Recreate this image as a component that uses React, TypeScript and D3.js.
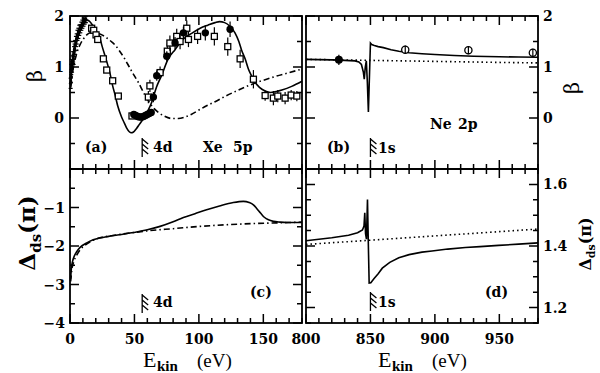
import * as d3 from "d3";

const width = 600;
const height = 373;

// ---- data ----

// panel (a): Xe 5p asymmetry parameter
const xeBetaTheory: [number, number][] = [
  [0.5, 0.6], [1, 0.8], [2, 1.1], [3, 1.32], [5, 1.55], [7, 1.73], [9, 1.84],
  [11, 1.9], [13, 1.92], [15, 1.9], [18, 1.8], [20, 1.72], [22.8, 1.6], [25, 1.4],
  [28, 1.15], [31, 0.88], [33.1, 0.63], [35, 0.45], [37, 0.24], [40, 0.02],
  [42.2, -0.1], [44, -0.2], [46, -0.27], [47.5, -0.29], [49, -0.28], [51.5, -0.21],
  [54, -0.12], [57, -0.01], [60, 0.12], [63.4, 0.31], [67, 0.6], [71, 0.83],
  [76, 1.15], [81.5, 1.34], [88, 1.55], [94.4, 1.66], [101, 1.76], [107, 1.82],
  [112.6, 1.87], [116, 1.89], [120, 1.87], [124, 1.8], [128, 1.67], [131, 1.5],
  [133, 1.34], [136, 1.15], [138.4, 0.96], [141, 0.82], [143.6, 0.7], [147, 0.6],
  [151.4, 0.53], [155.5, 0.5], [160, 0.52], [164.4, 0.55], [172, 0.62], [180, 0.72],
];

const xeBetaNoInter: [number, number][] = [
  [0.5, 0.62], [2, 0.9], [4, 1.15], [6, 1.33], [8, 1.45], [10.4, 1.55], [13, 1.63],
  [15.5, 1.67], [17.6, 1.68], [20, 1.67], [24, 1.64], [28, 1.58], [32, 1.5],
  [35, 1.43], [38.3, 1.32], [42.7, 1.15], [46, 1.0], [48.7, 0.88], [53, 0.7],
  [57.7, 0.47], [60.8, 0.34], [64, 0.22], [68.6, 0.11], [73, 0.04], [79, -0.01],
  [84, -0.01], [89.4, 0.02], [94, 0.07], [99.6, 0.15], [106, 0.24], [112.6, 0.32],
  [120, 0.42], [130, 0.54], [140, 0.65], [150, 0.74], [160, 0.82], [170, 0.89],
  [180, 0.96],
];

// [E, beta, error]
const xeSquares: [number, number, number][] = [
  [16.8, 1.76, 0.04], [18.4, 1.72, 0.04], [20.2, 1.63, 0.04], [21.5, 1.54, 0.04],
  [25.9, 1.16, 0.04], [28.5, 0.94, 0.04], [33.1, 0.73, 0.04], [37.5, 0.43, 0.04],
  [48.1, 0.04, 0.04], [60.8, 0.41, 0.12], [62, 0.63, 0.12], [69.9, 0.89, 0.12],
  [75.5, 1.31, 0.15], [77.5, 1.47, 0.15], [82.8, 1.6, 0.15], [85.4, 1.5, 0.15],
  [90.6, 1.76, 0.15], [91.9, 1.54, 0.15], [99, 1.6, 0.15], [112, 1.6, 0.18],
  [122.4, 1.4, 0.18], [132, 1.16, 0.18], [142.3, 0.76, 0.18], [151.4, 0.44, 0.1],
  [157.8, 0.39, 0.14], [161.2, 0.43, 0.12], [166.9, 0.39, 0.12], [171.6, 0.45, 0.1],
  [176, 0.43, 0.1],
];

const xeCircles: [number, number, number][] = [
  [49.5, 0.07, 0.05], [51, 0.05, 0.05], [52.5, 0.03, 0.05], [54, 0.02, 0.05],
  [55.5, 0.02, 0.05], [57, 0.03, 0.05], [58.5, 0.05, 0.05], [60, 0.07, 0.05],
  [61.5, 0.09, 0.05], [63, 0.11, 0.05], [64.7, 0.41, 0.1], [67.3, 0.83, 0.1],
  [75.1, 1.21, 0.1], [81.5, 1.47, 0.12], [88, 1.67, 0.12], [105, 1.67, 0.15],
  [124.2, 1.74, 0.15],
];

const xeEarly: [number, number, number][] = [
  [0.5, 0.68, 0.1], [0.8, 0.8, 0.1], [1.0, 0.95, 0.1], [1.3, 1.05, 0.1],
  [1.6, 1.0, 0.1], [2.0, 1.12, 0.1], [2.4, 1.2, 0.1], [2.8, 1.15, 0.1],
  [3.2, 1.3, 0.1], [3.6, 1.35, 0.1], [4.0, 1.42, 0.1], [4.6, 1.5, 0.1],
  [5.2, 1.55, 0.1], [5.8, 1.62, 0.1], [6.5, 1.66, 0.1], [7.2, 1.72, 0.1],
  [8.0, 1.75, 0.08], [8.8, 1.8, 0.08], [9.6, 1.84, 0.08], [10.5, 1.88, 0.08],
  [11.4, 1.9, 0.06], [12.3, 1.93, 0.06],
];

// panel (b): Ne 2p asymmetry parameter
const neBetaTheory: [number, number][] = [
  [800, 1.15], [810, 1.145], [820, 1.14], [830, 1.13], [838, 1.12], [841, 1.1],
  [843, 1.05], [844.5, 0.9], [845.2, 0.76], [846, 1.0], [846.8, 1.12], [847.6, 0.7],
  [848.4, 0.12], [849.2, 0.8], [850, 1.47], [851, 1.44], [853, 1.42], [856, 1.4],
  [860, 1.38], [866, 1.34], [872, 1.31], [880, 1.28], [890, 1.26], [900, 1.245],
  [915, 1.225], [930, 1.21], [950, 1.2], [965, 1.195], [980, 1.19],
];

const neBetaNoInter: [number, number][] = [
  [800, 1.15], [850, 1.13], [900, 1.11], [950, 1.09], [980, 1.08],
];

const neFilled: [number, number, number][] = [[825.5, 1.14, 0.1]];
const neOpen: [number, number, number][] = [
  [877, 1.34, 0.08], [926, 1.33, 0.08], [976, 1.28, 0.08],
];

// panel (c): Xe phase difference
const xeDeltaTheory: [number, number][] = [
  [0.5, -2.85], [1, -2.6], [2, -2.4], [3.5, -2.25], [5.2, -2.15], [8, -2.03],
  [13, -1.92], [18, -1.84], [23.3, -1.79], [30, -1.75], [40, -1.7], [49.1, -1.65],
  [60, -1.58], [69.9, -1.49], [80, -1.37], [88, -1.26], [97, -1.16], [106, -1.06],
  [116, -0.96], [126.7, -0.87], [134.5, -0.84], [139, -0.87], [142.3, -0.93],
  [145, -1.03], [148, -1.15], [151, -1.26], [154, -1.32], [157.8, -1.36],
  [163, -1.38], [168, -1.39], [180, -1.39],
];

const xeDeltaNoInter: [number, number][] = [
  [0.5, -2.92], [1.5, -2.6], [3, -2.4], [5, -2.25], [7.8, -2.1], [12, -1.97],
  [18, -1.85], [24, -1.78], [31, -1.74], [45, -1.67], [62, -1.6], [80, -1.55],
  [101, -1.49], [120, -1.45], [140, -1.42], [160, -1.4], [180, -1.38],
];

// panel (d): Ne phase difference
const neDeltaTheory: [number, number][] = [
  [800, 1.417], [820, 1.427], [833, 1.435], [840, 1.443], [843.8, 1.452],
  [845, 1.465], [845.6, 1.508], [846.2, 1.44], [846.9, 1.422], [847.7, 1.551],
  [848.3, 1.42], [849, 1.28], [850.3, 1.281], [853, 1.295], [856, 1.31],
  [859.2, 1.328], [865, 1.347], [872, 1.362], [880, 1.372], [890, 1.38],
  [897.8, 1.384], [910, 1.39], [923.6, 1.395], [935, 1.398], [949.4, 1.402],
  [965, 1.406], [980, 1.41],
];

const neDeltaNoInter: [number, number][] = [
  [800, 1.405], [980, 1.455],
];

// thresholds and tick labels
const xeThreshold = 56;
const neThreshold = 850;
const xeTickLabels = [0, 50, 100, 150];
const neTickLabels = [800, 850, 900, 950];
const betaTickLabels = [2, 1, 0];
const xeDeltaTickLabels = [-1, -2, -3, -4];
const neDeltaTickLabels = [1.6, 1.4, 1.2];

// ---- layout ----
const xXe = d3.scaleLinear().domain([0, 180]).range([70, 302]);
const xNe = d3.scaleLinear().domain([800, 980]).range([306, 538]);
const yBeta = d3.scaleLinear().domain([-1, 2]).range([169, 16]);
const yXeD = d3.scaleLinear().domain([-4, 0]).range([323, 169]);
const yNeD = d3.scaleLinear().domain([1.15, 1.65]).range([323, 169]);

const serif = "'DejaVu Serif', serif";
const times = "'Liberation Serif', serif";
const dashDot = "6,3,1.5,3";
const dotted = "1.5,3";

type Scale = d3.ScaleLinear<number, number>;

function Frame({ x, y, xMinor, xMajor, yMinor, yMajor }: {
  x: Scale; y: Scale; xMinor: number[]; xMajor: number[]; yMinor: number[]; yMajor: number[];
}) {
  const [x0, x1] = x.range();
  const [y1, y0] = y.range();
  const big = 9;
  const small = 5;
  let d = "";
  xMinor.forEach((v) => {
    const len = xMajor.includes(v) ? big : small;
    const px = x(v);
    d += `M${px},${y1}V${y1 - len}M${px},${y0}V${y0 + len}`;
  });
  yMinor.forEach((v) => {
    const len = yMajor.some((m) => Math.abs(m - v) < 1e-6) ? big : small;
    const py = y(v);
    d += `M${x0},${py}H${x0 + len}M${x1},${py}H${x1 - len}`;
  });
  return (
    <g>
      <path d={d} stroke="#000" strokeWidth={1.5} fill="none" />
      <rect x={x0} y={y0} width={x1 - x0} height={y1 - y0} fill="none" stroke="#000" strokeWidth={1.8} />
    </g>
  );
}

function Curve({ data, x, y, dash, curve }: {
  data: [number, number][]; x: Scale; y: Scale; dash?: string; curve?: d3.CurveFactory;
}) {
  const line = d3
    .line<[number, number]>()
    .x((d) => x(d[0]))
    .y((d) => y(d[1]))
    .curve(curve ?? d3.curveLinear);
  return (
    <path d={line(data) ?? ""} fill="none" stroke="#000" strokeWidth={1.6} strokeDasharray={dash} />
  );
}

function ErrBar({ px, lo, hi, cap }: { px: number; lo: number; hi: number; cap?: number }) {
  return (
    <g stroke="#000" strokeWidth={1.2}>
      <line x1={px} x2={px} y1={lo} y2={hi} />
      {cap ? (
        <>
          <line x1={px - cap} x2={px + cap} y1={lo} y2={lo} />
          <line x1={px - cap} x2={px + cap} y1={hi} y2={hi} />
        </>
      ) : null}
    </g>
  );
}

function Threshold({ px, top }: { px: number; top: number }) {
  let d = `M${px},${top}V${top + 19}`;
  [0, 1, 2].forEach((k) => {
    const t = top + 1 + k * 5;
    d += `M${px},${t}L${px + 6},${t + 5}`;
  });
  return <path d={d} stroke="#000" strokeWidth={1.3} fill="none" />;
}

const xMinorXe = d3.range(0, 181, 10);
const xMinorNe = d3.range(800, 981, 10);
const betaMinor = d3.range(-1, 2.01, 0.5);
const xeDMinor = d3.range(-4, 0.01, 0.5);
const neDMinor = d3.range(1.15, 1.651, 0.05).map((v) => +v.toFixed(2));

export default function App() {
  const tick = { fontFamily: serif, fontWeight: 700, fontSize: 14 } as const;
  const lab = { fontFamily: serif, fontWeight: 700, fontSize: 14 } as const;

  return (
    <svg
      width={width}
      height={height}
      viewBox={`0 0 ${width} ${height}`}
      style={{ position: "absolute", left: 0, top: 0, background: "#fff" }}
    >
      <rect width={width} height={height} fill="#fff" />

      {/* frames */}
      <Frame x={xXe} y={yBeta} xMinor={xMinorXe} xMajor={[0, 50, 100, 150]} yMinor={betaMinor} yMajor={[-1, 0, 1, 2]} />
      <Frame x={xNe} y={yBeta} xMinor={xMinorNe} xMajor={[800, 850, 900, 950]} yMinor={betaMinor} yMajor={[-1, 0, 1, 2]} />
      <Frame x={xXe} y={yXeD} xMinor={xMinorXe} xMajor={[0, 50, 100, 150]} yMinor={xeDMinor} yMajor={[-4, -3, -2, -1, 0]} />
      <Frame x={xNe} y={yNeD} xMinor={xMinorNe} xMajor={[800, 850, 900, 950]} yMinor={neDMinor} yMajor={[1.2, 1.4, 1.6]} />

      {/* panel (a) */}
      <Curve data={xeBetaNoInter} x={xXe} y={yBeta} dash={dashDot} curve={d3.curveMonotoneX} />
      <Curve data={xeBetaTheory} x={xXe} y={yBeta} curve={d3.curveMonotoneX} />
      {xeEarly.map(([e, b, err], i) => (
        <g key={`e${i}`}>
          <ErrBar px={xXe(e)} lo={yBeta(b - err)} hi={yBeta(b + err)} cap={2} />
          <circle cx={xXe(e)} cy={yBeta(b)} r={1.7} fill="#000" />
        </g>
      ))}
      {xeSquares.map(([e, b, err], i) => (
        <g key={`s${i}`}>
          <ErrBar px={xXe(e)} lo={yBeta(b - err)} hi={yBeta(b + err)} />
          <rect x={xXe(e) - 3} y={yBeta(b) - 3} width={6} height={6} fill="#fff" stroke="#000" strokeWidth={1.3} />
        </g>
      ))}
      {xeCircles.map(([e, b, err], i) => (
        <g key={`c${i}`}>
          <ErrBar px={xXe(e)} lo={yBeta(b - err)} hi={yBeta(b + err)} />
          <circle cx={xXe(e)} cy={yBeta(b)} r={3.7} fill="#000" />
        </g>
      ))}

      {/* panel (b) */}
      <Curve data={neBetaNoInter} x={xNe} y={yBeta} dash={dotted} />
      <Curve data={neBetaTheory} x={xNe} y={yBeta} />
      {neFilled.map(([e, b, err], i) => (
        <g key={`nf${i}`}>
          <ErrBar px={xNe(e)} lo={yBeta(b - err)} hi={yBeta(b + err)} />
          <circle cx={xNe(e)} cy={yBeta(b)} r={4} fill="#000" />
        </g>
      ))}
      {neOpen.map(([e, b, err], i) => (
        <g key={`no${i}`}>
          <circle cx={xNe(e)} cy={yBeta(b)} r={3.6} fill="#fff" stroke="#000" strokeWidth={1.3} />
          <ErrBar px={xNe(e)} lo={yBeta(b - err)} hi={yBeta(b + err)} />
        </g>
      ))}

      {/* panel (c) */}
      <Curve data={xeDeltaNoInter} x={xXe} y={yXeD} dash={dashDot} curve={d3.curveMonotoneX} />
      <Curve data={xeDeltaTheory} x={xXe} y={yXeD} curve={d3.curveMonotoneX} />

      {/* panel (d) */}
      <Curve data={neDeltaNoInter} x={xNe} y={yNeD} dash={dotted} />
      <Curve data={neDeltaTheory} x={xNe} y={yNeD} />

      {/* thresholds */}
      <Threshold px={xXe(xeThreshold)} top={138} />
      <Threshold px={xNe(neThreshold)} top={138} />
      <Threshold px={xXe(xeThreshold)} top={294} />
      <Threshold px={xNe(neThreshold)} top={292} />

      {/* tick labels */}
      {betaTickLabels.map((v) => (
        <text key={`bl${v}`} x={64} y={yBeta(v)} dy="0.36em" textAnchor="end" style={tick}>{v}</text>
      ))}
      {betaTickLabels.map((v) => (
        <text key={`br${v}`} x={543} y={yBeta(v)} dy="0.36em" textAnchor="start" style={tick}>{v}</text>
      ))}
      {xeDeltaTickLabels.map((v) => (
        <text key={`dl${v}`} x={65} y={yXeD(v)} dy="0.36em" textAnchor="end" style={tick}>{`−${Math.abs(v)}`}</text>
      ))}
      {neDeltaTickLabels.map((v) => (
        <text key={`dr${v}`} x={543} y={yNeD(v)} dy="0.36em" textAnchor="start" style={tick}>{v.toFixed(1)}</text>
      ))}
      {xeTickLabels.map((v) => (
        <text key={`xl${v}`} x={xXe(v)} y={344} textAnchor="middle" style={tick}>{v}</text>
      ))}
      {neTickLabels.map((v) => (
        <text key={`xr${v}`} x={xNe(v)} y={344} textAnchor="middle" style={tick}>{v}</text>
      ))}

      {/* axis titles */}
      <text transform="translate(42,76) rotate(-90)" textAnchor="middle" style={{ fontFamily: serif, fontSize: 21 }}>β</text>
      <text transform="translate(579,88) rotate(-90)" textAnchor="middle" style={{ fontFamily: serif, fontSize: 21 }}>β</text>
      <text transform="translate(35,233) rotate(-90)" textAnchor="middle" style={{ fontFamily: serif, fontWeight: 700, fontSize: 23 }}>
        Δ<tspan fontSize={15} dy={6}>ds</tspan><tspan dy={-6}>(π)</tspan>
      </text>
      <text transform="translate(591,244) rotate(-90)" textAnchor="middle" style={{ fontFamily: serif, fontWeight: 700, fontSize: 16 }}>
        Δ<tspan fontSize={11} dy={4}>ds</tspan><tspan dy={-4}>(π)</tspan>
      </text>

      {[143, 378].map((x0) => (
        <g key={`ek${x0}`}>
          <text x={x0} y={367} style={{ fontFamily: times, fontSize: 22 }}>E</text>
          <text x={x0 + 14} y={371} style={{ fontFamily: times, fontWeight: 700, fontSize: 15 }}>kin</text>
          <text x={x0 + 54} y={367} style={{ fontFamily: times, fontSize: 19 }}>(eV)</text>
        </g>
      ))}

      {/* panel labels */}
      <text x={85} y={152} style={lab}>(a)</text>
      <text x={153} y={152} style={lab}>4d</text>
      <text x={203} y={152} style={lab}>Xe</text>
      <text x={233} y={152} style={lab}>5p</text>
      <text x={327} y={152} style={lab}>(b)</text>
      <text x={378} y={153} style={lab}>1s</text>
      <text x={430} y={129} style={lab}>Ne</text>
      <text x={458} y={129} style={lab}>2p</text>
      <text x={250} y={297} style={lab}>(c)</text>
      <text x={153} y={307} style={lab}>4d</text>
      <text x={485} y={297} style={lab}>(d)</text>
      <text x={378} y={307} style={lab}>1s</text>
    </svg>
  );
}
